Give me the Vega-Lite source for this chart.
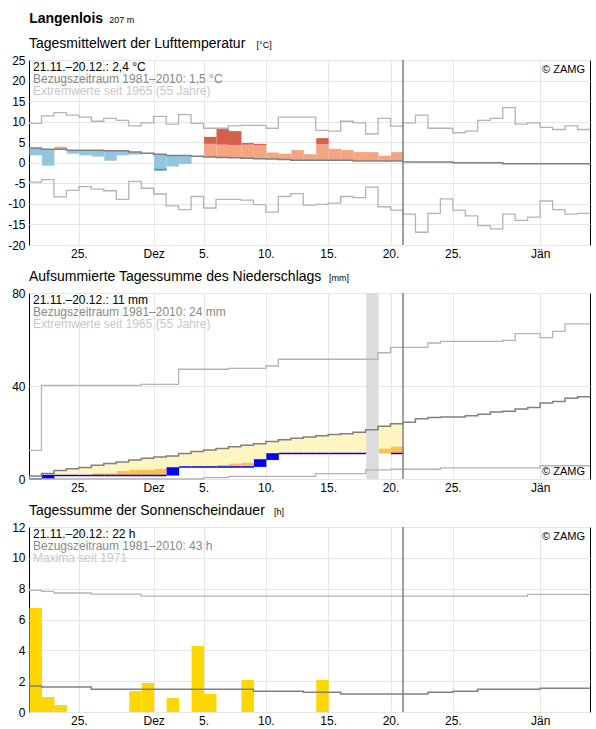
{
  "$schema": "https://vega.github.io/schema/vega-lite/v6.json",
  "background": "white",
  "padding": {"left": 7, "right": 4, "top": 11, "bottom": 2},
  "spacing": 9,
  "config": {
    "font": "Liberation Sans",
    "view": {"stroke": "#000", "strokeWidth": 1},
    "axis": {"domain": false, "ticks": false, "labelFont": "Liberation Sans", "labelFontSize": 12, "labelColor": "#000", "gridColor": "#e6e6e6", "gridWidth": 1, "labelPadding": 4, "labelOverlap": false, "labelFlush": false, "labelBound": false},
    "axisY": {"labelOverlap": false},
    "bar": {"binSpacing": 0},
    "title": {"anchor": "start", "frame": "group", "font": "Liberation Sans", "fontSize": 14, "fontWeight": "normal", "color": "#000", "subtitleFont": "Liberation Sans", "subtitleFontSize": 9, "subtitleColor": "#000", "subtitlePadding": -10, "offset": 3}
  },
  "title": {"text": "Langenlois", "subtitle": "\u200b\u00a0\u00a0\u00a0\u00a0\u00a0\u00a0\u00a0\u00a0\u00a0\u00a0\u00a0\u00a0\u00a0\u00a0\u00a0\u00a0\u00a0\u00a0\u00a0\u00a0\u00a0\u00a0\u00a0\u00a0\u00a0\u00a0\u00a0\u00a0\u00a0\u00a0\u00a0\u00a0207 m", "fontWeight": "bold", "frame": "bounds", "dx": 22, "offset": 11},
  "datasets": {
    "temp": [
      {"d":"2019-11-21","m":3.6,"hi":9.6,"lo":-4.7,"t":1.8,"tn":1.8},
      {"d":"2019-11-22","m":3.3,"hi":11.4,"lo":-4.1,"t":-0.7,"tn":-0.7},
      {"d":"2019-11-23","m":3.3,"hi":12.2,"lo":-8.3,"t":3.9,"tn":3.9},
      {"d":"2019-11-24","m":3.05,"hi":11.6,"lo":-6.7,"t":2.2,"tn":2.2},
      {"d":"2019-11-25","m":3.05,"hi":11.1,"lo":-5.8,"t":1.8,"tn":1.8},
      {"d":"2019-11-26","m":3.05,"hi":10.1,"lo":-6.4,"t":1.5,"tn":1.5},
      {"d":"2019-11-27","m":2.9,"hi":10.8,"lo":-6.8,"t":0.5,"tn":0.5},
      {"d":"2019-11-28","m":2.9,"hi":10.3,"lo":-8.9,"t":1.8,"tn":1.8},
      {"d":"2019-11-29","m":2.6,"hi":9.0,"lo":-4.5,"t":2.0,"tn":2.0},
      {"d":"2019-11-30","m":2.3,"hi":9.7,"lo":-6.2,"t":2.2,"tn":2.2},
      {"d":"2019-12-01","m":2.1,"hi":11.3,"lo":-7.6,"t":-1.9,"tn":-1.4},
      {"d":"2019-12-02","m":1.8,"hi":9.4,"lo":-10.5,"t":-0.9,"tn":-0.9},
      {"d":"2019-12-03","m":1.8,"hi":11.7,"lo":-11.4,"t":-0.3,"tn":-0.3},
      {"d":"2019-12-04","m":1.6,"hi":9.6,"lo":-8.2,"t":1.6,"tn":1.6},
      {"d":"2019-12-05","m":1.4,"hi":8.4,"lo":-11.0,"t":6.3,"tn":4.6},
      {"d":"2019-12-06","m":1.3,"hi":8.4,"lo":-8.9,"t":8.2,"tn":4.4},
      {"d":"2019-12-07","m":1.2,"hi":9.0,"lo":-8.9,"t":7.7,"tn":4.3},
      {"d":"2019-12-08","m":1.1,"hi":9.1,"lo":-9.1,"t":4.8,"tn":4.4},
      {"d":"2019-12-09","m":1.0,"hi":9.1,"lo":-10.2,"t":4.6,"tn":4.3},
      {"d":"2019-12-10","m":0.9,"hi":8.4,"lo":-12.0,"t":2.5,"tn":2.5},
      {"d":"2019-12-11","m":0.8,"hi":11.1,"lo":-8.2,"t":2.2,"tn":2.2},
      {"d":"2019-12-12","m":0.6,"hi":11.1,"lo":-7.5,"t":3.1,"tn":3.1},
      {"d":"2019-12-13","m":0.6,"hi":11.1,"lo":-10.3,"t":2.1,"tn":2.1},
      {"d":"2019-12-14","m":0.6,"hi":7.9,"lo":-10.1,"t":6.0,"tn":4.5},
      {"d":"2019-12-15","m":0.6,"hi":7.7,"lo":-9.8,"t":3.4,"tn":3.4},
      {"d":"2019-12-16","m":0.6,"hi":10.1,"lo":-8.2,"t":3.1,"tn":3.1},
      {"d":"2019-12-17","m":0.45,"hi":9.7,"lo":-8.5,"t":2.6,"tn":2.6},
      {"d":"2019-12-18","m":0.45,"hi":7.0,"lo":-5.9,"t":2.6,"tn":2.6},
      {"d":"2019-12-19","m":0.45,"hi":10.8,"lo":-10.7,"t":1.7,"tn":1.7},
      {"d":"2019-12-20","m":0.45,"hi":8.9,"lo":-11.5,"t":2.6,"tn":2.6},
      {"d":"2019-12-21","m":0.2,"hi":9.7,"lo":-12.5},
      {"d":"2019-12-22","m":0.2,"hi":11.6,"lo":-16.9},
      {"d":"2019-12-23","m":0.2,"hi":8.4,"lo":-12.3},
      {"d":"2019-12-24","m":0.2,"hi":8.4,"lo":-8.8},
      {"d":"2019-12-25","m":0.0,"hi":7.3,"lo":-11.5},
      {"d":"2019-12-26","m":0.0,"hi":7.7,"lo":-12.9},
      {"d":"2019-12-27","m":0.0,"hi":10.3,"lo":-15.3},
      {"d":"2019-12-28","m":0.0,"hi":10.8,"lo":-16.1},
      {"d":"2019-12-29","m":-0.25,"hi":13.4,"lo":-12.5},
      {"d":"2019-12-30","m":-0.25,"hi":9.4,"lo":-14.0},
      {"d":"2019-12-31","m":-0.25,"hi":9.7,"lo":-13.2},
      {"d":"2020-01-01","m":-0.25,"hi":8.6,"lo":-9.3},
      {"d":"2020-01-02","m":-0.25,"hi":8.1,"lo":-11.4},
      {"d":"2020-01-03","m":-0.25,"hi":9.0,"lo":-12.5},
      {"d":"2020-01-04","m":-0.25,"hi":8.1,"lo":-12.3},
      {"d":"2020-01-05","m":-0.25,"hi":8.1,"lo":-12.3}
    ],
    "prec": [
      {"d":"2019-11-21","m":1.3,"hi":12.3,"lo":0,"o":0,"f":0},
      {"d":"2019-11-22","m":2.4,"hi":40.3,"lo":0,"o":1.5,"f":1.5,"p":0},
      {"d":"2019-11-23","m":3.7,"hi":40.3,"lo":0,"o":1.5,"f":1.5},
      {"d":"2019-11-24","m":4.4,"hi":40.3,"lo":0,"o":1.5,"f":1.5},
      {"d":"2019-11-25","m":4.9,"hi":40.3,"lo":0,"o":1.5,"f":1.5},
      {"d":"2019-11-26","m":5.9,"hi":40.3,"lo":0,"o":1.5,"f":1.5,"th":2.4},
      {"d":"2019-11-27","m":6.7,"hi":40.3,"lo":0,"o":1.5,"f":1.5,"th":2.4},
      {"d":"2019-11-28","m":7.3,"hi":40.3,"lo":0,"o":1.5,"f":1.5,"th":3.4},
      {"d":"2019-11-29","m":8.2,"hi":40.3,"lo":0,"o":1.5,"f":1.5,"th":3.9},
      {"d":"2019-11-30","m":8.9,"hi":40.7,"lo":0,"o":1.5,"f":1.5,"th":3.9},
      {"d":"2019-12-01","m":9.5,"hi":40.7,"lo":0,"o":1.5,"f":1.5,"th":4.3},
      {"d":"2019-12-02","m":9.9,"hi":40.7,"lo":0,"o":4.7,"f":4.7,"p":1.5},
      {"d":"2019-12-03","m":11.0,"hi":47.2,"lo":0,"o":5.2,"f":5.2},
      {"d":"2019-12-04","m":11.8,"hi":47.2,"lo":0,"o":5.2,"f":5.2,"th":5.6},
      {"d":"2019-12-05","m":12.5,"hi":47.2,"lo":0.6,"o":5.2,"f":5.2,"th":5.6},
      {"d":"2019-12-06","m":13.1,"hi":47.2,"lo":0.6,"o":5.2,"f":5.2,"th":6.0},
      {"d":"2019-12-07","m":13.9,"hi":47.6,"lo":1.1,"o":5.2,"f":5.2,"th":6.6},
      {"d":"2019-12-08","m":14.5,"hi":47.6,"lo":1.1,"o":5.2,"f":5.2,"th":7.0},
      {"d":"2019-12-09","m":15.2,"hi":47.6,"lo":1.1,"o":8.2,"f":8.2,"p":5.2},
      {"d":"2019-12-10","m":16.1,"hi":48.6,"lo":1.1,"o":10.8,"f":10.8,"p":8.2},
      {"d":"2019-12-11","m":16.9,"hi":51.5,"lo":1.1,"o":11.0,"f":11.0},
      {"d":"2019-12-12","m":17.5,"hi":51.5,"lo":1.1,"o":11.0,"f":11.0},
      {"d":"2019-12-13","m":18.1,"hi":51.5,"lo":1.1,"o":11.0,"f":11.0},
      {"d":"2019-12-14","m":18.6,"hi":51.5,"lo":2.3,"o":11.0,"f":11.0},
      {"d":"2019-12-15","m":19.1,"hi":51.5,"lo":2.3,"o":11.0,"f":11.0},
      {"d":"2019-12-16","m":19.5,"hi":51.5,"lo":2.3,"o":11.0,"f":11.0},
      {"d":"2019-12-17","m":20.1,"hi":51.5,"lo":2.3,"o":11.0,"f":11.0},
      {"d":"2019-12-18","m":21.2,"hi":51.5,"lo":3.9,"f":11.0},
      {"d":"2019-12-19","m":22.7,"hi":54.3,"lo":3.9,"f":11.0,"th":13.0},
      {"d":"2019-12-20","m":23.8,"hi":56.6,"lo":4.2,"o":11.0,"f":11.0,"th":13.9},
      {"d":"2019-12-21","m":24.4,"hi":56.6,"lo":4.2},
      {"d":"2019-12-22","m":25.9,"hi":56.6,"lo":4.2},
      {"d":"2019-12-23","m":26.4,"hi":58.5,"lo":4.2},
      {"d":"2019-12-24","m":26.7,"hi":59.2,"lo":4.8},
      {"d":"2019-12-25","m":26.7,"hi":59.2,"lo":4.8},
      {"d":"2019-12-26","m":27.2,"hi":59.2,"lo":4.8},
      {"d":"2019-12-27","m":27.8,"hi":59.2,"lo":4.8},
      {"d":"2019-12-28","m":28.8,"hi":59.2,"lo":4.8},
      {"d":"2019-12-29","m":29.1,"hi":59.6,"lo":4.8},
      {"d":"2019-12-30","m":30.1,"hi":62.5,"lo":4.8},
      {"d":"2019-12-31","m":30.7,"hi":62.5,"lo":4.8},
      {"d":"2020-01-01","m":32.7,"hi":60.8,"lo":5.7},
      {"d":"2020-01-02","m":33.3,"hi":63.5,"lo":5.7},
      {"d":"2020-01-03","m":34.7,"hi":66.7,"lo":5.7},
      {"d":"2020-01-04","m":35.4,"hi":66.7,"lo":5.7},
      {"d":"2020-01-05","m":35.4,"hi":66.7,"lo":5.7}
    ],
    "sun": [
      {"d":"2019-11-21","m":1.69,"mx":7.89,"s":6.75},
      {"d":"2019-11-22","m":1.62,"mx":7.83,"s":0.97},
      {"d":"2019-11-23","m":1.62,"mx":7.72,"s":0.45},
      {"d":"2019-11-24","m":1.62,"mx":7.72,"s":0},
      {"d":"2019-11-25","m":1.62,"mx":7.72,"s":0},
      {"d":"2019-11-26","m":1.47,"mx":7.65,"s":0},
      {"d":"2019-11-27","m":1.47,"mx":7.65,"s":0},
      {"d":"2019-11-28","m":1.47,"mx":7.65,"s":0},
      {"d":"2019-11-29","m":1.47,"mx":7.65,"s":1.36},
      {"d":"2019-11-30","m":1.47,"mx":7.52,"s":1.88},
      {"d":"2019-12-01","m":1.47,"mx":7.52,"s":0},
      {"d":"2019-12-02","m":1.47,"mx":7.52,"s":0.91},
      {"d":"2019-12-03","m":1.47,"mx":7.52,"s":0},
      {"d":"2019-12-04","m":1.47,"mx":7.52,"s":4.28},
      {"d":"2019-12-05","m":1.47,"mx":7.52,"s":1.17},
      {"d":"2019-12-06","m":1.47,"mx":7.52,"s":0},
      {"d":"2019-12-07","m":1.47,"mx":7.52,"s":0},
      {"d":"2019-12-08","m":1.47,"mx":7.52,"s":2.08},
      {"d":"2019-12-09","m":1.34,"mx":7.52,"s":0},
      {"d":"2019-12-10","m":1.34,"mx":7.52,"s":0},
      {"d":"2019-12-11","m":1.34,"mx":7.52,"s":0},
      {"d":"2019-12-12","m":1.34,"mx":7.52,"s":0},
      {"d":"2019-12-13","m":1.28,"mx":7.52,"s":0},
      {"d":"2019-12-14","m":1.28,"mx":7.52,"s":2.08},
      {"d":"2019-12-15","m":1.28,"mx":7.52,"s":0},
      {"d":"2019-12-16","m":1.17,"mx":7.52,"s":0},
      {"d":"2019-12-17","m":1.17,"mx":7.52,"s":0},
      {"d":"2019-12-18","m":1.17,"mx":7.52,"s":0},
      {"d":"2019-12-19","m":1.17,"mx":7.52,"s":0},
      {"d":"2019-12-20","m":1.17,"mx":7.52,"s":0},
      {"d":"2019-12-21","m":1.17,"mx":7.52},
      {"d":"2019-12-22","m":1.17,"mx":7.52},
      {"d":"2019-12-23","m":1.28,"mx":7.52},
      {"d":"2019-12-24","m":1.28,"mx":7.52},
      {"d":"2019-12-25","m":1.34,"mx":7.52},
      {"d":"2019-12-26","m":1.34,"mx":7.52},
      {"d":"2019-12-27","m":1.47,"mx":7.52},
      {"d":"2019-12-28","m":1.47,"mx":7.52},
      {"d":"2019-12-29","m":1.47,"mx":7.52},
      {"d":"2019-12-30","m":1.47,"mx":7.52},
      {"d":"2019-12-31","m":1.47,"mx":7.63},
      {"d":"2020-01-01","m":1.54,"mx":7.63},
      {"d":"2020-01-02","m":1.54,"mx":7.63},
      {"d":"2020-01-03","m":1.54,"mx":7.63},
      {"d":"2020-01-04","m":1.54,"mx":7.63},
      {"d":"2020-01-05","m":1.54,"mx":7.63}
    ]
  },
  "vconcat": [
    {
      "title": {"text": "Tagesmittelwert der Lufttemperatur", "subtitle": "\u200b\u00a0\u00a0\u00a0\u00a0\u00a0\u00a0\u00a0\u00a0\u00a0\u00a0\u00a0\u00a0\u00a0\u00a0\u00a0\u00a0\u00a0\u00a0\u00a0\u00a0\u00a0\u00a0\u00a0\u00a0\u00a0\u00a0\u00a0\u00a0\u00a0\u00a0\u00a0\u00a0\u00a0\u00a0\u00a0\u00a0\u00a0\u00a0\u00a0\u00a0\u00a0\u00a0\u00a0\u00a0\u00a0\u00a0\u00a0\u00a0\u00a0\u00a0\u00a0\u00a0\u00a0\u00a0\u00a0\u00a0\u00a0\u00a0\u00a0\u00a0\u00a0\u00a0\u00a0\u00a0\u00a0\u00a0\u00a0\u00a0\u00a0\u00a0\u00a0\u00a0\u00a0\u00a0\u00a0\u00a0\u00a0\u00a0\u00a0\u00a0\u00a0\u00a0\u00a0\u00a0\u00a0\u00a0\u00a0\u00a0\u00a0\u00a0\u00a0[°C]"},
      "width": 561,
      "height": 185,
      "data": {"name": "temp"},
      "encoding": {
        "x": {"field": "d", "type": "temporal", "title": null,
          "scale": {"type": "utc", "domain": [{"year": 2019, "month": 11, "date": 21, "utc": true}, {"year": 2020, "month": 1, "date": 5, "utc": true}]},
          "axis": {"grid": true, "labelPadding": 3, "labelOverlap": false,
            "values": [{"year": 2019, "month": 11, "date": 25, "utc": true}, {"year": 2019, "month": 12, "date": 1, "utc": true}, {"year": 2019, "month": 12, "date": 5, "utc": true}, {"year": 2019, "month": 12, "date": 10, "utc": true}, {"year": 2019, "month": 12, "date": 15, "utc": true}, {"year": 2019, "month": 12, "date": 20, "utc": true}, {"year": 2019, "month": 12, "date": 25, "utc": true}, {"year": 2020, "month": 1, "date": 1, "utc": true}],
            "labelExpr": "utcdate(datum.value) == 1 ? (utcmonth(datum.value) == 0 ? 'Jän' : 'Dez') : utcdate(datum.value) + '.'"}}
      },
      "layer": [
        {"mark": {"type": "line", "interpolate": "step-after", "color": "#b4b4b4", "strokeWidth": 1.3},
         "encoding": {"y": {"field": "hi", "type": "quantitative", "title": null, "scale": {"domain": [-20, 25], "nice": false, "zero": false}, "axis": {"grid": true, "labelOverlap": false, "tickCount": 10, "values": [-20, -15, -10, -5, 0, 5, 10, 15, 20, 25], "labelExpr": "'' + datum.value"}}}},
        {"mark": {"type": "line", "interpolate": "step-after", "color": "#b4b4b4", "strokeWidth": 1.3},
         "encoding": {"y": {"field": "lo", "type": "quantitative", "title": null, "axis": {"grid": true, "labelOverlap": false, "tickCount": 10, "values": [-20, -15, -10, -5, 0, 5, 10, 15, 20, 25], "labelExpr": "'' + datum.value"}}}},
        {"transform": [{"filter": "isValid(datum.t) && datum.t > datum.m"}],
         "mark": {"type": "bar", "color": "#f4a582", "binSpacing": 0},
         "encoding": {"x": {"field": "d", "type": "temporal", "timeUnit": "utcyearmonthdate", "title": null}, "y": {"field": "m", "type": "quantitative", "title": null, "axis": {"grid": true, "labelOverlap": false, "tickCount": 10, "values": [-20, -15, -10, -5, 0, 5, 10, 15, 20, 25], "labelExpr": "'' + datum.value"}}, "y2": {"field": "tn"}}},
        {"transform": [{"filter": "isValid(datum.t) && datum.t > datum.m"}],
         "mark": {"type": "bar", "color": "#d6604d", "binSpacing": 0},
         "encoding": {"x": {"field": "d", "type": "temporal", "timeUnit": "utcyearmonthdate", "title": null}, "y": {"field": "tn", "type": "quantitative", "title": null, "axis": {"grid": true, "labelOverlap": false, "tickCount": 10, "values": [-20, -15, -10, -5, 0, 5, 10, 15, 20, 25], "labelExpr": "'' + datum.value"}}, "y2": {"field": "t"}}},
        {"transform": [{"filter": "isValid(datum.t) && datum.t < datum.m"}],
         "mark": {"type": "bar", "color": "#92c5de", "binSpacing": 0},
         "encoding": {"x": {"field": "d", "type": "temporal", "timeUnit": "utcyearmonthdate", "title": null}, "y": {"field": "m", "type": "quantitative", "title": null, "axis": {"grid": true, "labelOverlap": false, "tickCount": 10, "values": [-20, -15, -10, -5, 0, 5, 10, 15, 20, 25], "labelExpr": "'' + datum.value"}}, "y2": {"field": "tn"}}},
        {"transform": [{"filter": "isValid(datum.t) && datum.t < datum.m"}],
         "mark": {"type": "bar", "color": "#4393c3", "binSpacing": 0},
         "encoding": {"x": {"field": "d", "type": "temporal", "timeUnit": "utcyearmonthdate", "title": null}, "y": {"field": "tn", "type": "quantitative", "title": null, "axis": {"grid": true, "labelOverlap": false, "tickCount": 10, "values": [-20, -15, -10, -5, 0, 5, 10, 15, 20, 25], "labelExpr": "'' + datum.value"}}, "y2": {"field": "t"}}},
        {"mark": {"type": "line", "interpolate": "step-after", "color": "#808080", "strokeWidth": 1.5},
         "encoding": {"y": {"field": "m", "type": "quantitative", "title": null, "axis": {"grid": true, "labelOverlap": false, "tickCount": 10, "values": [-20, -15, -10, -5, 0, 5, 10, 15, 20, 25], "labelExpr": "'' + datum.value"}}}},
        {"data": {"values": [{"d": "2019-12-21"}]},
         "mark": {"type": "rule", "color": "#808080", "strokeWidth": 1.5},
         "encoding": {"x": {"field": "d", "type": "temporal", "title": null}}},
        {"data": {"values": [{"d": "2019-11-21", "v": 25, "txt": "21.11.–20.12.: 2,4 °C"}]},
         "mark": {"type": "text", "align": "left", "baseline": "top", "dx": 4, "dy": 2, "fontSize": 12, "color": "#000"},
         "encoding": {"x": {"field": "d", "type": "temporal", "title": null}, "y": {"field": "v", "type": "quantitative", "title": null, "axis": {"grid": true, "labelOverlap": false, "tickCount": 10, "values": [-20, -15, -10, -5, 0, 5, 10, 15, 20, 25], "labelExpr": "'' + datum.value"}}, "text": {"field": "txt"}}},
        {"data": {"values": [{"d": "2019-11-21", "v": 25, "txt": "Bezugszeitraum 1981–2010: 1,5 °C"}]},
         "mark": {"type": "text", "align": "left", "baseline": "top", "dx": 4, "dy": 14, "fontSize": 12, "color": "#888888"},
         "encoding": {"x": {"field": "d", "type": "temporal", "title": null}, "y": {"field": "v", "type": "quantitative", "title": null, "axis": {"grid": true, "labelOverlap": false, "tickCount": 10, "values": [-20, -15, -10, -5, 0, 5, 10, 15, 20, 25], "labelExpr": "'' + datum.value"}}, "text": {"field": "txt"}}},
        {"data": {"values": [{"d": "2019-11-21", "v": 25, "txt": "Extremwerte seit 1965 (55 Jahre)"}]},
         "mark": {"type": "text", "align": "left", "baseline": "top", "dx": 4, "dy": 26, "fontSize": 12, "color": "#c8c8c8"},
         "encoding": {"x": {"field": "d", "type": "temporal", "title": null}, "y": {"field": "v", "type": "quantitative", "title": null, "axis": {"grid": true, "labelOverlap": false, "tickCount": 10, "values": [-20, -15, -10, -5, 0, 5, 10, 15, 20, 25], "labelExpr": "'' + datum.value"}}, "text": {"field": "txt"}}},
        {"data": {"values": [{"d": "2020-01-05", "v": 25, "txt": "© ZAMG"}]},
         "mark": {"type": "text", "align": "right", "baseline": "top", "dx": -5, "dy": 4, "fontSize": 11, "color": "#000"},
         "encoding": {"x": {"field": "d", "type": "temporal", "title": null}, "y": {"field": "v", "type": "quantitative", "title": null, "axis": {"grid": true, "labelOverlap": false, "tickCount": 10, "values": [-20, -15, -10, -5, 0, 5, 10, 15, 20, 25], "labelExpr": "'' + datum.value"}}, "text": {"field": "txt"}}}
      ]
    },
    {
      "title": {"text": "Aufsummierte Tagessumme des Niederschlags", "subtitle": "\u200b\u00a0\u00a0\u00a0\u00a0\u00a0\u00a0\u00a0\u00a0\u00a0\u00a0\u00a0\u00a0\u00a0\u00a0\u00a0\u00a0\u00a0\u00a0\u00a0\u00a0\u00a0\u00a0\u00a0\u00a0\u00a0\u00a0\u00a0\u00a0\u00a0\u00a0\u00a0\u00a0\u00a0\u00a0\u00a0\u00a0\u00a0\u00a0\u00a0\u00a0\u00a0\u00a0\u00a0\u00a0\u00a0\u00a0\u00a0\u00a0\u00a0\u00a0\u00a0\u00a0\u00a0\u00a0\u00a0\u00a0\u00a0\u00a0\u00a0\u00a0\u00a0\u00a0\u00a0\u00a0\u00a0\u00a0\u00a0\u00a0\u00a0\u00a0\u00a0\u00a0\u00a0\u00a0\u00a0\u00a0\u00a0\u00a0\u00a0\u00a0\u00a0\u00a0\u00a0\u00a0\u00a0\u00a0\u00a0\u00a0\u00a0\u00a0\u00a0\u00a0\u00a0\u00a0\u00a0\u00a0\u00a0\u00a0\u00a0\u00a0\u00a0\u00a0\u00a0\u00a0\u00a0\u00a0\u00a0\u00a0\u00a0\u00a0\u00a0\u00a0\u00a0\u00a0\u00a0\u00a0\u00a0\u00a0\u00a0\u00a0[mm]"},
      "width": 561,
      "height": 186,
      "data": {"name": "prec"},
      "encoding": {
        "x": {"field": "d", "type": "temporal", "title": null,
          "scale": {"type": "utc", "domain": [{"year": 2019, "month": 11, "date": 21, "utc": true}, {"year": 2020, "month": 1, "date": 5, "utc": true}]},
          "axis": {"grid": true, "labelPadding": 3, "labelOverlap": false,
            "values": [{"year": 2019, "month": 11, "date": 25, "utc": true}, {"year": 2019, "month": 12, "date": 1, "utc": true}, {"year": 2019, "month": 12, "date": 5, "utc": true}, {"year": 2019, "month": 12, "date": 10, "utc": true}, {"year": 2019, "month": 12, "date": 15, "utc": true}, {"year": 2019, "month": 12, "date": 20, "utc": true}, {"year": 2019, "month": 12, "date": 25, "utc": true}, {"year": 2020, "month": 1, "date": 1, "utc": true}],
            "labelExpr": "utcdate(datum.value) == 1 ? (utcmonth(datum.value) == 0 ? 'Jän' : 'Dez') : utcdate(datum.value) + '.'"}}
      },
      "layer": [
        {"transform": [{"filter": "isValid(datum.f)"}],
         "mark": {"type": "bar", "color": "#fff5c0", "binSpacing": 0},
         "encoding": {"x": {"field": "d", "type": "temporal", "timeUnit": "utcyearmonthdate", "title": null}, "y": {"field": "m", "type": "quantitative", "title": null, "scale": {"domain": [0, 80], "nice": false}, "axis": {"grid": true, "labelOverlap": false, "values": [0, 40, 80]}}, "y2": {"field": "f"}}},
        {"transform": [{"filter": "isValid(datum.th)"}],
         "mark": {"type": "bar", "color": "#fdbf50", "binSpacing": 0},
         "encoding": {"x": {"field": "d", "type": "temporal", "timeUnit": "utcyearmonthdate", "title": null}, "y": {"field": "f", "type": "quantitative", "title": null}, "y2": {"field": "th"}}},
        {"data": {"values": [{"d": "2019-12-18"}]},
         "mark": {"type": "bar", "color": "#dcdcdc", "binSpacing": 0},
         "encoding": {"x": {"field": "d", "type": "temporal", "timeUnit": "utcyearmonthdate", "title": null}, "y": {"datum": 80, "type": "quantitative"}, "y2": {"datum": 0}}},
        {"transform": [{"filter": "isValid(datum.p)"}],
         "mark": {"type": "bar", "color": "#0000ff", "binSpacing": 0},
         "encoding": {"x": {"field": "d", "type": "temporal", "timeUnit": "utcyearmonthdate", "title": null}, "y": {"field": "p", "type": "quantitative", "title": null}, "y2": {"field": "o"}}},
        {"transform": [{"filter": "isValid(datum.o)"}],
         "mark": {"type": "bar", "fillOpacity": 0, "stroke": "#0000ff", "strokeWidth": 1.5, "binSpacing": 0},
         "encoding": {"x": {"field": "d", "type": "temporal", "timeUnit": "utcyearmonthdate", "title": null}, "y": {"field": "o", "type": "quantitative", "title": null}, "y2": {"field": "o"}}},
        {"mark": {"type": "line", "interpolate": "step-after", "color": "#b4b4b4", "strokeWidth": 1.3},
         "encoding": {"y": {"field": "hi", "type": "quantitative", "title": null}}},
        {"mark": {"type": "line", "interpolate": "step-after", "color": "#b4b4b4", "strokeWidth": 1.3},
         "encoding": {"y": {"field": "lo", "type": "quantitative", "title": null}}},
        {"mark": {"type": "line", "interpolate": "step-after", "color": "#808080", "strokeWidth": 1.5},
         "encoding": {"y": {"field": "m", "type": "quantitative", "title": null}}},
        {"data": {"values": [{"d": "2019-12-21"}]},
         "mark": {"type": "rule", "color": "#808080", "strokeWidth": 1.5},
         "encoding": {"x": {"field": "d", "type": "temporal", "title": null}}},
        {"data": {"values": [{"d": "2019-11-21", "txt": "21.11.–20.12.: 11 mm"}]},
         "mark": {"type": "text", "align": "left", "baseline": "top", "dx": 4, "dy": 2, "fontSize": 12, "color": "#000"},
         "encoding": {"x": {"field": "d", "type": "temporal", "title": null}, "y": {"datum": 80, "type": "quantitative"}, "text": {"field": "txt"}}},
        {"data": {"values": [{"d": "2019-11-21", "txt": "Bezugszeitraum 1981–2010: 24 mm"}]},
         "mark": {"type": "text", "align": "left", "baseline": "top", "dx": 4, "dy": 14, "fontSize": 12, "color": "#888888"},
         "encoding": {"x": {"field": "d", "type": "temporal", "title": null}, "y": {"datum": 80, "type": "quantitative"}, "text": {"field": "txt"}}},
        {"data": {"values": [{"d": "2019-11-21", "txt": "Extremwerte seit 1965 (55 Jahre)"}]},
         "mark": {"type": "text", "align": "left", "baseline": "top", "dx": 4, "dy": 26, "fontSize": 12, "color": "#c8c8c8"},
         "encoding": {"x": {"field": "d", "type": "temporal", "title": null}, "y": {"datum": 80, "type": "quantitative"}, "text": {"field": "txt"}}},
        {"data": {"values": [{"d": "2020-01-05", "txt": "© ZAMG"}]},
         "mark": {"type": "text", "align": "right", "baseline": "bottom", "dx": -5, "dy": -2, "fontSize": 11, "color": "#000"},
         "encoding": {"x": {"field": "d", "type": "temporal", "title": null}, "y": {"datum": 0, "type": "quantitative"}, "text": {"field": "txt"}}}
      ]
    },
    {
      "title": {"text": "Tagessumme der Sonnenscheindauer", "subtitle": "\u200b\u00a0\u00a0\u00a0\u00a0\u00a0\u00a0\u00a0\u00a0\u00a0\u00a0\u00a0\u00a0\u00a0\u00a0\u00a0\u00a0\u00a0\u00a0\u00a0\u00a0\u00a0\u00a0\u00a0\u00a0\u00a0\u00a0\u00a0\u00a0\u00a0\u00a0\u00a0\u00a0\u00a0\u00a0\u00a0\u00a0\u00a0\u00a0\u00a0\u00a0\u00a0\u00a0\u00a0\u00a0\u00a0\u00a0\u00a0\u00a0\u00a0\u00a0\u00a0\u00a0\u00a0\u00a0\u00a0\u00a0\u00a0\u00a0\u00a0\u00a0\u00a0\u00a0\u00a0\u00a0\u00a0\u00a0\u00a0\u00a0\u00a0\u00a0\u00a0\u00a0\u00a0\u00a0\u00a0\u00a0\u00a0\u00a0\u00a0\u00a0\u00a0\u00a0\u00a0\u00a0\u00a0\u00a0\u00a0\u00a0\u00a0\u00a0\u00a0\u00a0\u00a0\u00a0\u00a0\u00a0\u00a0\u00a0[h]"},
      "width": 561,
      "height": 185,
      "data": {"name": "sun"},
      "encoding": {
        "x": {"field": "d", "type": "temporal", "title": null,
          "scale": {"type": "utc", "domain": [{"year": 2019, "month": 11, "date": 21, "utc": true}, {"year": 2020, "month": 1, "date": 5, "utc": true}]},
          "axis": {"grid": true, "labelPadding": 3, "labelOverlap": false,
            "values": [{"year": 2019, "month": 11, "date": 25, "utc": true}, {"year": 2019, "month": 12, "date": 1, "utc": true}, {"year": 2019, "month": 12, "date": 5, "utc": true}, {"year": 2019, "month": 12, "date": 10, "utc": true}, {"year": 2019, "month": 12, "date": 15, "utc": true}, {"year": 2019, "month": 12, "date": 20, "utc": true}, {"year": 2019, "month": 12, "date": 25, "utc": true}, {"year": 2020, "month": 1, "date": 1, "utc": true}],
            "labelExpr": "utcdate(datum.value) == 1 ? (utcmonth(datum.value) == 0 ? 'Jän' : 'Dez') : utcdate(datum.value) + '.'"}}
      },
      "layer": [
        {"mark": {"type": "line", "interpolate": "step-after", "color": "#b4b4b4", "strokeWidth": 1.3},
         "encoding": {"y": {"field": "mx", "type": "quantitative", "title": null, "scale": {"domain": [0, 12], "nice": false}, "axis": {"grid": true, "labelOverlap": false, "tickCount": 7, "values": [0, 2, 4, 6, 8, 10, 12]}}}},
        {"transform": [{"filter": "datum.s > 0"}],
         "mark": {"type": "bar", "color": "#ffd700", "binSpacing": 0},
         "encoding": {"x": {"field": "d", "type": "temporal", "timeUnit": "utcyearmonthdate", "title": null}, "y": {"field": "s", "type": "quantitative", "title": null, "axis": {"grid": true, "labelOverlap": false, "tickCount": 7, "values": [0, 2, 4, 6, 8, 10, 12]}}}},
        {"mark": {"type": "line", "interpolate": "step-after", "color": "#808080", "strokeWidth": 1.5},
         "encoding": {"y": {"field": "m", "type": "quantitative", "title": null, "axis": {"grid": true, "labelOverlap": false, "tickCount": 7, "values": [0, 2, 4, 6, 8, 10, 12]}}}},
        {"data": {"values": [{"d": "2019-12-21"}]},
         "mark": {"type": "rule", "color": "#808080", "strokeWidth": 1.5},
         "encoding": {"x": {"field": "d", "type": "temporal", "title": null}}},
        {"data": {"values": [{"d": "2019-11-21", "v": 12, "txt": "21.11.–20.12.: 22 h"}]},
         "mark": {"type": "text", "align": "left", "baseline": "top", "dx": 4, "dy": 2, "fontSize": 12, "color": "#000"},
         "encoding": {"x": {"field": "d", "type": "temporal", "title": null}, "y": {"field": "v", "type": "quantitative", "title": null, "axis": {"grid": true, "labelOverlap": false, "tickCount": 7, "values": [0, 2, 4, 6, 8, 10, 12]}}, "text": {"field": "txt"}}},
        {"data": {"values": [{"d": "2019-11-21", "v": 12, "txt": "Bezugszeitraum 1981–2010: 43 h"}]},
         "mark": {"type": "text", "align": "left", "baseline": "top", "dx": 4, "dy": 14, "fontSize": 12, "color": "#888888"},
         "encoding": {"x": {"field": "d", "type": "temporal", "title": null}, "y": {"field": "v", "type": "quantitative", "title": null, "axis": {"grid": true, "labelOverlap": false, "tickCount": 7, "values": [0, 2, 4, 6, 8, 10, 12]}}, "text": {"field": "txt"}}},
        {"data": {"values": [{"d": "2019-11-21", "v": 12, "txt": "Maxima seit 1971"}]},
         "mark": {"type": "text", "align": "left", "baseline": "top", "dx": 4, "dy": 26, "fontSize": 12, "color": "#c8c8c8"},
         "encoding": {"x": {"field": "d", "type": "temporal", "title": null}, "y": {"field": "v", "type": "quantitative", "title": null, "axis": {"grid": true, "labelOverlap": false, "tickCount": 7, "values": [0, 2, 4, 6, 8, 10, 12]}}, "text": {"field": "txt"}}},
        {"data": {"values": [{"d": "2020-01-05", "v": 12, "txt": "© ZAMG"}]},
         "mark": {"type": "text", "align": "right", "baseline": "top", "dx": -5, "dy": 4, "fontSize": 11, "color": "#000"},
         "encoding": {"x": {"field": "d", "type": "temporal", "title": null}, "y": {"field": "v", "type": "quantitative", "title": null, "axis": {"grid": true, "labelOverlap": false, "tickCount": 7, "values": [0, 2, 4, 6, 8, 10, 12]}}, "text": {"field": "txt"}}}
      ]
    }
  ]
}
